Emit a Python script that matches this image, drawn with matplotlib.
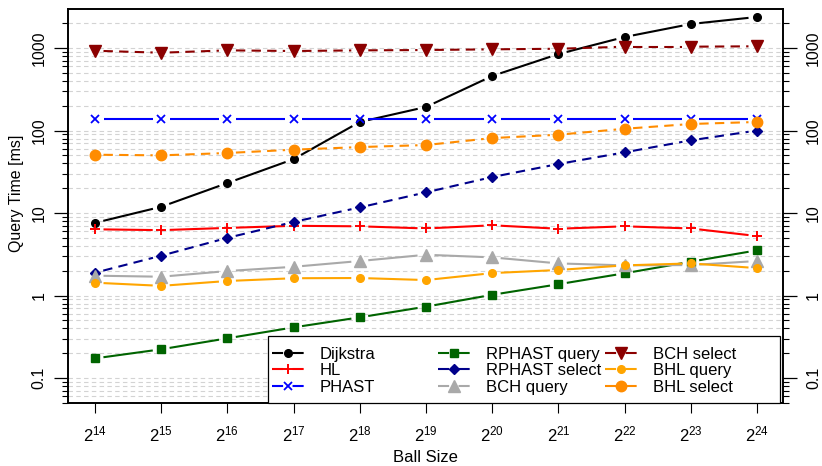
import matplotlib
matplotlib.use("Agg")
import matplotlib.pyplot as plt
from matplotlib.lines import Line2D
from matplotlib.legend import Legend
from matplotlib.patches import Rectangle
from matplotlib.ticker import FixedLocator, NullFormatter
import numpy as np

plt.rcParams['font.family'] = ['Liberation Sans', 'DejaVu Sans']
plt.rcParams['mathtext.fontset'] = 'custom'
plt.rcParams['mathtext.rm'] = 'Liberation Sans'
plt.rcParams['mathtext.it'] = 'Liberation Sans:italic'
plt.rcParams['mathtext.bf'] = 'Liberation Sans:bold'

# ---------------- data ----------------
exponents = [14, 15, 16, 17, 18, 19, 20, 21, 22, 23, 24]
dijkstra = [7.6, 11.9, 23.1, 45, 127, 193, 458, 845, 1360, 1955, 2380]
hl = [6.35, 6.2, 6.6, 7.0, 6.9, 6.5, 7.1, 6.45, 6.9, 6.5, 5.26]
phast = [138, 138, 138, 138, 138, 138, 138, 138, 138, 138, 138]
rphast_query = [0.173, 0.223, 0.303, 0.411, 0.544, 0.733, 1.02, 1.37, 1.86, 2.57, 3.53]
rphast_select = [1.89, 3.04, 5.0, 7.8, 11.7, 17.8, 27.3, 39.3, 54.4, 76, 100]
bch_query = [1.74, 1.69, 1.98, 2.23, 2.62, 3.12, 2.9, 2.45, 2.32, 2.34, 2.62]
bch_select = [927, 877, 937, 920, 937, 946, 964, 980, 1038, 1038, 1050]
bhl_query = [1.43, 1.31, 1.5, 1.62, 1.63, 1.54, 1.87, 2.04, 2.32, 2.45, 2.15]
bhl_select = [50.9, 50, 53.4, 58.6, 63, 66.7, 81, 89, 105, 120, 127]

labels = ["Dijkstra", "HL", "PHAST", "RPHAST query", "RPHAST select",
          "BCH query", "BCH select", "BHL query", "BHL select"]
series = [dijkstra, hl, phast, rphast_query, rphast_select,
          bch_query, bch_select, bhl_query, bhl_select]
colors = ["black", "#FF0000", "#0000FF", "#006400", "#00008B",
          "#A9A9A9", "#8B0000", "#FFA500", "#FF8C00"]
dashed = [False, False, False, False, True, False, True, False, True]
markers = ["o", "+", "x", "s", "D", "^", "v", "o", "o"]
msizes = [5.5, 7.5, 5.5, 6, 5.5, 8, 9, 5.5, 7.5]
mews = [1, 1.4, 1.3, 1, 1, 1, 1, 1, 1]

major_y = [0.1, 1, 10, 100, 1000]
major_y_labels = ["0.1", "1", "10", "100", "1000"]

# ---------------- figure ----------------
W, H = 822, 466
fig = plt.figure(figsize=(W / 100, H / 100), dpi=100)
L, R, T, B = 68, 783, 9, 403
ax = fig.add_axes([L / W, 1 - B / H, (R - L) / W, (B - T) / H])

YLIM = (0.0498, 2972)
ax.set_xscale('log', base=2)
ax.set_yscale('log')
ax.set_xlim(2 ** 13.592, 2 ** 24.393)
ax.set_ylim(*YLIM)

xs = [2.0 ** e for e in exponents]

minor_y = []
for d in [0.01, 0.1, 1, 10, 100, 1000]:
    for m in range(2, 10):
        v = d * m
        if YLIM[0] <= v <= YLIM[1]:
            minor_y.append(v)

def setup_y(a):
    a.yaxis.set_major_locator(FixedLocator(major_y))
    a.yaxis.set_minor_locator(FixedLocator(minor_y))
    a.yaxis.set_minor_formatter(NullFormatter())
    a.set_yticklabels(major_y_labels)

setup_y(ax)
ax.xaxis.set_major_locator(FixedLocator(xs))
ax.xaxis.set_minor_locator(FixedLocator([]))
ax.set_xticklabels([r"$2^{%d}$" % e for e in exponents])

# grid (horizontal only)
for v in major_y + minor_y:
    ax.axhline(v, color="#D3D3D3", lw=0.8, ls=(0, (4, 3)), zorder=0.5)

# series with gaps around points (R type="b")
gap = 8.5
lw = 1.5
for ys, c, dsh, mk, ms, mew in zip(series, colors, dashed, markers, msizes, mews):
    ls = (0, (4.5, 3)) if dsh else '-'
    pts = ax.transData.transform(np.column_stack([xs, ys]))
    inv = ax.transData.inverted()
    for i in range(len(xs) - 1):
        p0, p1 = pts[i], pts[i + 1]
        d = p1 - p0
        ln = np.hypot(*d)
        if ln <= 2 * gap:
            continue
        u = d / ln
        q = inv.transform(np.array([p0 + u * gap, p1 - u * gap]))
        ax.plot(q[:, 0], q[:, 1], color=c, lw=lw, ls=ls, zorder=2,
                solid_capstyle='butt', dash_capstyle='butt')
    ax.plot(xs, ys, ls='none', marker=mk, ms=ms, color=c, mew=mew,
            mec=c, zorder=3)

# ticks / spines
for s in ax.spines.values():
    s.set_linewidth(1.2)
ax.tick_params(axis='y', which='major', direction='out', length=10, width=0.9,
               labelsize=11.5, labelrotation=90, left=True, right=False,
               labelleft=True, labelright=False, pad=5.5)
ax.tick_params(axis='y', which='minor', direction='out', length=4.3, width=0.8,
               left=True, right=False)
ax.tick_params(axis='x', which='major', direction='out', length=7.2, width=0.8,
               labelsize=12, pad=8)
for t in ax.yaxis.get_major_ticks():
    t.label1.set_va('center')

# right axis (same scale)
axr = ax.twinx()
axr.set_yscale('log')
axr.set_ylim(*YLIM)
setup_y(axr)
axr.tick_params(axis='y', which='major', direction='out', length=10, width=0.9,
                labelsize=11.5, labelrotation=90, pad=6.5)
axr.tick_params(axis='y', which='minor', direction='out', length=4.3, width=0.8)
for t in axr.yaxis.get_major_ticks():
    t.label2.set_va('center')
for s in axr.spines.values():
    s.set_linewidth(1.2)

ax.set_ylabel("Query Time [ms]", fontsize=11.5)
ax.yaxis.set_label_coords(-(L - 17) / (R - L), (B - 193) / (B - T))
ax.set_xlabel("Ball Size", fontsize=12)
ax.xaxis.set_label_coords(0.5, -(457 - B) / (B - T))
ax.xaxis.label.set_va('center')
ax.yaxis.label.set_va('center')

# ---------------- legend ----------------
frame = Rectangle((268 / W, 1 - 403 / H), 512 / W, 67 / H, transform=fig.transFigure,
                  facecolor='white', edgecolor='black', lw=0.9, zorder=4.9,
                  clip_on=False)
axr.add_patch(frame)

fs = 12
hlen = 1.9
on_pt, off_pt = 8.0, 6.8
handles = []
for c, mk, ms, mew in zip(colors, markers, msizes, mews):
    handles.append(Line2D([], [], color=c, lw=lw, ls=(0, (on_pt / lw, off_pt / lw)),
                          marker=mk, ms=ms, mew=mew, mec=c,
                          dash_capstyle='butt'))

col_x = [272, 438, 605]
yc = 1 - 370.7 / H
for ci in range(3):
    leg = Legend(axr, handles[ci * 3:(ci + 1) * 3], labels[ci * 3:(ci + 1) * 3],
                 loc='center left', bbox_to_anchor=(col_x[ci] / W, yc),
                 bbox_transform=fig.transFigure, frameon=False,
                 borderpad=0, borderaxespad=0, handlelength=hlen,
                 handletextpad=0.95, labelspacing=0.1, fontsize=fs,
                 numpoints=1)
    leg.set_zorder(5)
    axr.add_artist(leg)

fig.savefig("out.png", dpi=100)
